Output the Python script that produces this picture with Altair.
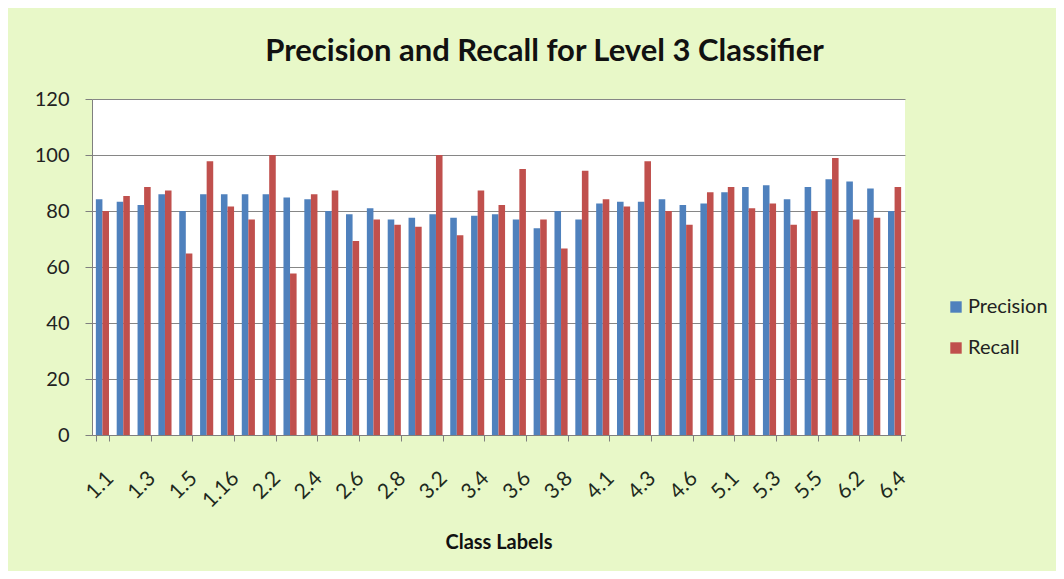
import altair as alt
import pandas as pd

categories = ["1.1", "1.2", "1.3", "1.4", "1.5", "1.6", "1.16", "2.1", "2.2", "2.3",
              "2.4", "2.5", "2.6", "2.7", "2.8", "3.1", "3.2", "3.3", "3.4", "3.5",
              "3.6", "3.7", "3.8", "3.9", "4.1", "4.2", "4.3", "4.4", "4.6", "4.7",
              "5.1", "5.2", "5.3", "5.4", "5.5", "6.1", "6.2", "6.3", "6.4"]
precision = [84.2, 83.3, 82.1, 86.0, 80.0, 86.0, 86.0, 86.0, 86.0, 84.8,
             84.2, 80.0, 78.8, 81.0, 77.0, 77.6, 78.8, 77.6, 78.3, 78.8,
             77.0, 73.8, 80.0, 77.0, 82.7, 83.3, 83.3, 84.2, 82.1, 82.7,
             86.7, 88.6, 89.2, 84.2, 88.6, 91.3, 90.5, 88.0, 80.0]
recall = [80.0, 85.4, 88.6, 87.3, 64.8, 97.8, 81.6, 77.0, 100.0, 57.7,
          86.0, 87.3, 69.3, 77.0, 75.1, 74.4, 100.0, 71.3, 87.3, 82.1,
          95.0, 77.0, 66.6, 94.4, 84.2, 81.6, 97.8, 80.0, 75.1, 86.7,
          88.6, 81.0, 82.7, 75.1, 80.0, 98.9, 77.0, 77.6, 88.6]
shown_labels = ["1.1", "1.3", "1.5", "1.16", "2.2", "2.4", "2.6", "2.8", "3.2", "3.4",
                "3.6", "3.8", "4.1", "4.3", "4.6", "5.1", "5.3", "5.5", "6.2", "6.4"]
series = ["Precision", "Recall"]
series_colors = ["#4F81BD", "#C0504D"]
y_ticks = [0, 20, 40, 60, 80, 100, 120]

rows = []
for c, p, r in zip(categories, precision, recall):
    rows.append({"label": c, "series": "Precision", "value": p})
    rows.append({"label": c, "series": "Recall", "value": r})
df = pd.DataFrame(rows)

FONT = "Lato"

chart = alt.Chart(df).mark_bar().encode(
    x=alt.X("label:N", sort=categories,
            scale=alt.Scale(paddingInner=0.37, paddingOuter=0.185),
            axis=alt.Axis(title="Class Labels", values=shown_labels, labelAngle=-45,
                          labelAlign="right", labelBaseline="top",
                          labelFontSize=21, labelColor="#1e2a1e", labelFont=FONT,
                          labelPadding=26, tickBand="extent", ticks=True, tickSize=6,
                          tickColor="#7f7f7f", domainColor="#7f7f7f",
                          titleFont=FONT, titleFontSize=20, titleFontWeight="bold",
                          titleColor="#111111", titleY=97, titleBaseline="top")),
    xOffset=alt.XOffset("series:N", sort=series, scale=alt.Scale(paddingInner=0, paddingOuter=0)),
    y=alt.Y("value:Q", scale=alt.Scale(domain=[0, 120], nice=False),
            axis=alt.Axis(title=None, values=y_ticks, labelFontSize=20, labelFont=FONT,
                          labelColor="#222222", labelPadding=16, tickSize=7,
                          tickColor="#7f7f7f", domainColor="#7f7f7f",
                          gridColor="#868686", gridWidth=1.2)),
    color=alt.Color("series:N", sort=series,
                    scale=alt.Scale(domain=series, range=series_colors),
                    legend=alt.Legend(title=None, orient="none", legendX=854, legendY=198,
                                      symbolType="square", symbolSize=130,
                                      symbolStrokeWidth=0, labelFontSize=20,
                                      labelFont=FONT, labelColor="#222222",
                                      rowPadding=21, labelOffset=2)),
).properties(
    width=813,
    height=336,
    title=alt.TitleParams("Precision and Recall for Level 3 Classifier", font=FONT,
                          fontSize=31, fontWeight="bold", color="#111111",
                          anchor="middle", dx=46, offset=21),
    background="#e8f8c8",
    padding={"left": 84, "top": 91, "right": 151, "bottom": 136},
    autosize=alt.AutoSizeParams(type="none"),
).configure_view(fill="white", stroke=None)

chart.save("out.html", embed_options={"renderer": "svg", "actions": False})
